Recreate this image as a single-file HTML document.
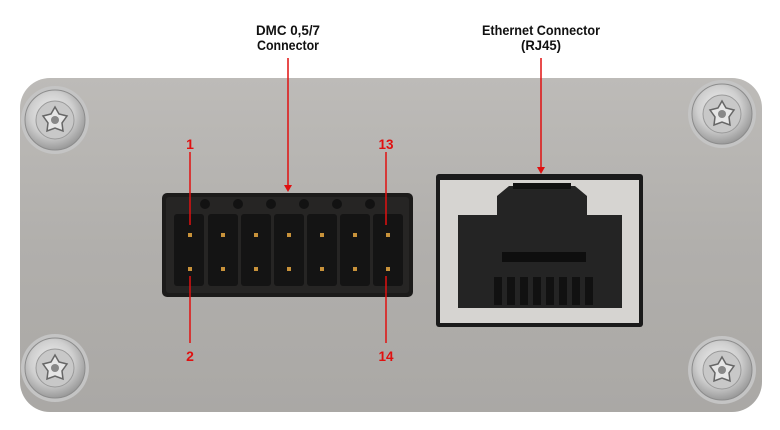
<!DOCTYPE html>
<html><head><style>
html,body{margin:0;padding:0;background:#fff;}
svg{display:block}
text{font-family:"Liberation Sans",sans-serif;font-size:14px;font-weight:bold;}
</style></head><body>
<svg width="780" height="430" viewBox="0 0 780 430" xmlns="http://www.w3.org/2000/svg">
<defs>
<linearGradient id="pl" x1="0" y1="0" x2="0" y2="1">
<stop offset="0" stop-color="#bdbbb8"/><stop offset="0.5" stop-color="#b1afac"/><stop offset="1" stop-color="#aaa8a5"/>
</linearGradient>
<radialGradient id="sc" cx="0.45" cy="0.4" r="0.6">
<stop offset="0" stop-color="#f2f2f2"/><stop offset="0.6" stop-color="#cfcfcf"/><stop offset="1" stop-color="#9a9a9a"/>
</radialGradient>
<g id="screw">
<circle r="34" fill="#c4c4c4"/>
<circle r="30" fill="url(#sc)" stroke="#8c8c8c" stroke-width="1"/>
<circle r="19" fill="#c8c8c8" stroke="#9a9a9a"/>
<path d="M0,-13 L4,-6 12,-4 7,3 8,11 0,8 -8,11 -7,3 -12,-4 -4,-6Z" fill="#e6e6e6" stroke="#666" stroke-width="1.5"/>
<circle r="4" fill="#888"/>
</g>
</defs>
<rect x="20" y="78" width="742" height="334" rx="30" fill="url(#pl)"/>
<use href="#screw" x="55" y="120"/>
<use href="#screw" x="722" y="114"/>
<use href="#screw" x="55" y="368"/>
<use href="#screw" x="722" y="370"/>
<rect x="162" y="193" width="251" height="104" rx="5" fill="#1c1b1a"/>
<rect x="166" y="197" width="243" height="96" rx="3" fill="#262524"/>
<g fill="#121212">
<circle cx="205" cy="204" r="5"/><circle cx="238" cy="204" r="5"/><circle cx="271" cy="204" r="5"/><circle cx="304" cy="204" r="5"/><circle cx="337" cy="204" r="5"/><circle cx="370" cy="204" r="5"/>
</g>
<g fill="#141414">
<rect x="174" y="214" width="30" height="72" rx="3"/>
<rect x="208" y="214" width="30" height="72" rx="3"/>
<rect x="241" y="214" width="30" height="72" rx="3"/>
<rect x="274" y="214" width="30" height="72" rx="3"/>
<rect x="307" y="214" width="30" height="72" rx="3"/>
<rect x="340" y="214" width="30" height="72" rx="3"/>
<rect x="373" y="214" width="30" height="72" rx="3"/>
</g>
<g fill="#c8923a">
<rect x="188" y="233" width="4" height="4"/><rect x="221" y="233" width="4" height="4"/><rect x="254" y="233" width="4" height="4"/><rect x="287" y="233" width="4" height="4"/><rect x="320" y="233" width="4" height="4"/><rect x="353" y="233" width="4" height="4"/><rect x="386" y="233" width="4" height="4"/>
<rect x="188" y="267" width="4" height="4"/><rect x="221" y="267" width="4" height="4"/><rect x="254" y="267" width="4" height="4"/><rect x="287" y="267" width="4" height="4"/><rect x="320" y="267" width="4" height="4"/><rect x="353" y="267" width="4" height="4"/><rect x="386" y="267" width="4" height="4"/>
</g>
<rect x="436" y="174" width="207" height="153" rx="3" fill="#1a1a1a"/>
<rect x="440" y="180" width="199" height="143" fill="#d6d4d1"/>
<path d="M458,215 L497,215 497,196 509,186 575,186 587,196 587,215 622,215 622,308 458,308Z" fill="#242424"/>
<rect x="513" y="183" width="58" height="6" fill="#111"/>
<rect x="502" y="252" width="84" height="10" fill="#0e0e0e"/>
<g fill="#111">
<rect x="494" y="277" width="8" height="28"/><rect x="507" y="277" width="8" height="28"/><rect x="520" y="277" width="8" height="28"/><rect x="533" y="277" width="8" height="28"/><rect x="546" y="277" width="8" height="28"/><rect x="559" y="277" width="8" height="28"/><rect x="572" y="277" width="8" height="28"/><rect x="585" y="277" width="8" height="28"/>
</g>
<g fill="#111" text-anchor="middle">
<text x="288" y="35" textLength="64" lengthAdjust="spacingAndGlyphs">DMC 0,5/7</text>
<text x="288" y="50" textLength="62" lengthAdjust="spacingAndGlyphs">Connector</text>
<text x="541" y="35" textLength="118" lengthAdjust="spacingAndGlyphs">Ethernet Connector</text>
<text x="541" y="50" textLength="40" lengthAdjust="spacingAndGlyphs">(RJ45)</text>
</g>
<g stroke="#e01010" stroke-width="1.5">
<line x1="288" y1="58" x2="288" y2="186"/>
<line x1="541" y1="58" x2="541" y2="168"/>
<line x1="190" y1="152" x2="190" y2="225"/>
<line x1="386" y1="152" x2="386" y2="225"/>
<line x1="190" y1="276" x2="190" y2="343"/>
<line x1="386" y1="276" x2="386" y2="343"/>
</g>
<g fill="#e01010">
<path d="M284,185 L292,185 288,192Z"/>
<path d="M537,167 L545,167 541,174Z"/>
</g>
<g fill="#e01010" text-anchor="middle">
<text x="190" y="149">1</text>
<text x="386" y="149" textLength="15" lengthAdjust="spacingAndGlyphs">13</text>
<text x="190" y="361">2</text>
<text x="386" y="361" textLength="15" lengthAdjust="spacingAndGlyphs">14</text>
</g>
</svg>
</body></html>
